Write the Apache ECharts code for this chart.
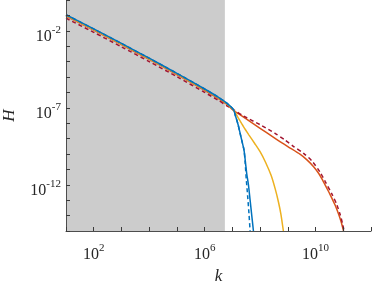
<!DOCTYPE html>
<html>
<head>
<meta charset="utf-8">
<script src="https://cdn.jsdelivr.net/npm/echarts@6/dist/echarts.min.js"></script>
<style>
html,body{margin:0;padding:0;background:#fff;}
#chart{width:374px;height:283px;}
</style>
</head>
<body>
<div id="chart"></div>
<script>
// Values, stored as log10 exponents (log-log chart)
const powerLogK = [1, 2, 3, 4, 5, 6, 6.5, 6.8, 7.04];

const blueLogK = powerLogK.concat([7.1, 7.2, 7.28, 7.35, 7.42, 7.47, 7.52, 7.58, 7.64, 7.70, 7.76]);
const blueLogH = [-0.96, -1.88, -2.82, -3.78, -4.76, -5.78, -6.32, -6.70, -7.12,
                  -7.45, -8.05, -8.66, -9.2, -9.75, -10.5, -11.3, -12.0, -13.0, -14.0, -15.0];

const blueDashLogK = powerLogK.concat([7.1, 7.2, 7.28, 7.35, 7.42, 7.46, 7.5, 7.55, 7.6, 7.64]);
const blueDashLogH = [-0.96, -1.88, -2.82, -3.78, -4.76, -5.78, -6.32, -6.70, -7.12,
                      -7.45, -8.05, -8.66, -9.2, -9.75, -10.5, -11.6, -12.7, -13.9, -15.0];

const yellowLogK = powerLogK.concat([7.2, 7.4, 7.6, 7.8, 8.0, 8.2, 8.4, 8.55, 8.66, 8.75, 8.84]);
const yellowLogH = [-1.0, -1.92, -2.86, -3.82, -4.80, -5.82, -6.36, -6.74, -7.14,
                    -7.62, -8.22, -8.77, -9.3, -9.85, -10.55, -11.4, -12.3, -13.1, -13.9, -15.0];

const orangeLogK = powerLogK.concat([7.5, 8.0, 8.5, 8.73, 9.0, 9.45, 9.7, 9.93, 10.11, 10.23, 10.4, 10.53, 10.7, 10.83, 10.93, 11.01]);
const orangeLogH = [-1.04, -1.96, -2.90, -3.86, -4.84, -5.86, -6.40, -6.78, -7.17,
                    -7.72, -8.33, -8.94, -9.21, -9.52, -10.03, -10.40, -10.83, -11.25, -11.62, -12.2, -12.65, -13.3, -13.9, -14.45, -15.0];

const redLogK = powerLogK.concat([7.4, 8.0, 8.54, 8.9, 9.2, 9.57, 9.87, 10.17, 10.35, 10.59, 10.77, 10.89, 10.97, 11.03]);
const redLogH = [-1.18, -2.10, -3.04, -4.0, -4.98, -6.0, -6.52, -6.87, -7.12,
                 -7.53, -8.1, -8.66, -9.1, -9.5, -9.96, -10.45, -11.2, -11.8, -12.6, -13.3, -13.95, -14.5, -15.0];

// shaded region (log10 k)
const shadeLogK = [1, 6.73];

// tick labels (exponents)
const xTickExps = [2, 6, 10];
const yTickExps = [-2, -7, -12];

const xRangeExp = [1, 12];
const yRangeExp = [-15, 0];

function pairs(lk, lh) {
  return lk.map((v, i) => [Math.pow(10, v), Math.pow(10, lh[i])]);
}

const FONT = 'Liberation Serif';
const TXT = '#262626';
const rich = {
  b: {fontFamily: FONT, fontSize: 16, color: TXT, verticalAlign: 'bottom', lineHeight: 16},
  s: {fontFamily: FONT, fontSize: 11, color: TXT, verticalAlign: 'bottom', lineHeight: 11, padding: [0, 0, 9, 0]}
};
function fmt(exps) {
  return function (v) {
    const e = Math.round(Math.log10(v));
    return exps.indexOf(e) >= 0 ? '{b|10}{s|' + e + '}' : '';
  };
}

const chart = echarts.init(document.getElementById('chart'), null, {renderer: 'canvas'});
const lw = 1.5;
const sm = 0.25;
const AX = '#4d4d4d';
chart.setOption({
  animation: false,
  backgroundColor: '#ffffff',
  grid: {left: 66, right: 3, top: 0, bottom: 52, containLabel: false, outerBoundsMode: 'none'},
  xAxis: {
    type: 'log', logBase: 10, z: 10,
    min: Math.pow(10, xRangeExp[0]), max: Math.pow(10, xRangeExp[1]), interval: 1,
    axisLine: {show: true, lineStyle: {color: AX, width: 1}},
    axisTick: {show: true, inside: true, length: 4, interval: 0, lineStyle: {color: '#3a3a3a', width: 1}},
    splitLine: {show: false},
    minorTick: {show: false},
    axisLabel: {formatter: fmt(xTickExps), rich: rich, margin: 16, interval: 0, showMinLabel: true, showMaxLabel: true, hideOverlap: false},
    name: 'k', nameLocation: 'middle', nameGap: 35,
    nameTextStyle: {fontFamily: FONT, fontStyle: 'italic', fontSize: 17, color: TXT}
  },
  yAxis: {
    type: 'log', logBase: 10, z: 10,
    min: Math.pow(10, yRangeExp[0]), max: Math.pow(10, yRangeExp[1]), interval: 1,
    axisLine: {show: true, lineStyle: {color: AX, width: 1}},
    axisTick: {show: true, inside: true, length: 4, interval: 0, lineStyle: {color: '#3a3a3a', width: 1}},
    splitLine: {show: false},
    minorTick: {show: false},
    axisLabel: {formatter: fmt(yTickExps), rich: rich, margin: 5, interval: 0, padding: [11, 0, 0, 0], showMinLabel: true, showMaxLabel: true, hideOverlap: false},
    name: 'H', nameLocation: 'middle', nameGap: 48,
    nameTextStyle: {fontFamily: FONT, fontStyle: 'italic', fontSize: 17, color: TXT}
  },
  series: [
    {
      type: 'line', name: 'shade', data: [], silent: true, z: 1,
      markArea: {
        silent: true,
        itemStyle: {color: '#cccccc'},
        data: [[{xAxis: Math.pow(10, shadeLogK[0])}, {xAxis: Math.pow(10, shadeLogK[1])}]]
      }
    },
    {type: 'line', name: 'orange', data: pairs(orangeLogK, orangeLogH), showSymbol: false, symbol: 'none', z: 3, smooth: sm,
     lineStyle: {color: '#D95319', width: lw}},
    {type: 'line', name: 'red', data: pairs(redLogK, redLogH), showSymbol: false, symbol: 'none', z: 3, smooth: sm,
     lineStyle: {color: '#A2142F', width: lw, type: [4, 3]}},
    {type: 'line', name: 'yellow', data: pairs(yellowLogK, yellowLogH), showSymbol: false, symbol: 'none', z: 3, smooth: sm,
     lineStyle: {color: '#EDB120', width: lw}},
    {type: 'line', name: 'blueDash', data: pairs(blueDashLogK, blueDashLogH), showSymbol: false, symbol: 'none', z: 3, smooth: sm,
     lineStyle: {color: '#0072BD', width: lw, type: [4, 3]}},
    {type: 'line', name: 'blue', data: pairs(blueLogK, blueLogH), showSymbol: false, symbol: 'none', z: 3, smooth: sm,
     lineStyle: {color: '#0072BD', width: lw}}
  ]
});
</script>
</body>
</html>
